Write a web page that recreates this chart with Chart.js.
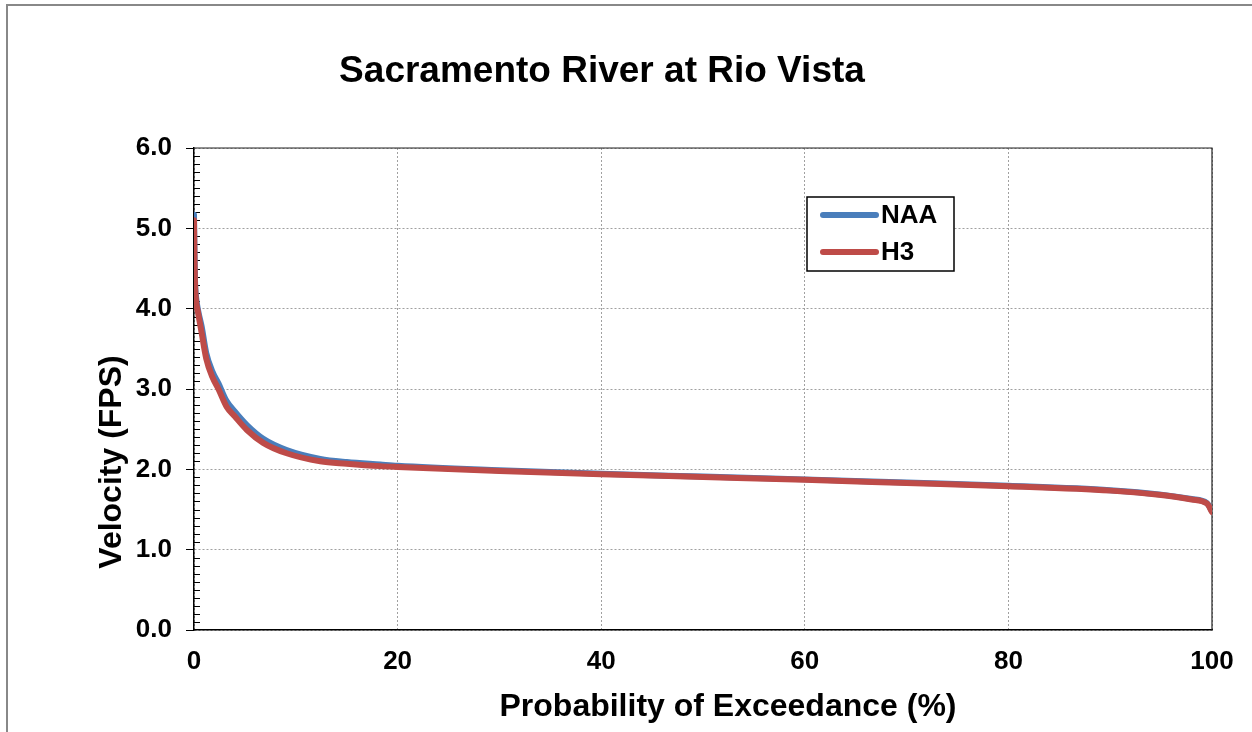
<!DOCTYPE html>
<html>
<head>
<meta charset="utf-8">
<title>Sacramento River at Rio Vista</title>
<script src="https://cdn.jsdelivr.net/npm/chart.js@4.4.1/dist/chart.umd.min.js"></script>
<style>
  body { margin: 0; background: #fff; }
  #wrap { position: relative; width: 1252px; height: 732px; }
  #frame { position: absolute; left: 6px; top: 4px; right: 0; bottom: 0;
           border-top: 2px solid #888; border-left: 2px solid #888; pointer-events: none; }
  canvas { position: absolute; left: 0; top: 0; }
</style>
</head>
<body>
<div id="wrap">
  <canvas id="chart" width="1252" height="732"></canvas>
  <div id="frame"></div>
</div>
<script>
// exceedance probability (%) and velocity (fps)
const exceedance = [0, 0.05, 0.1, 0.2, 0.4, 0.75, 1.2, 1.8, 2.4, 3.2, 4.0, 5.2, 6.8, 9.1, 12.4, 15, 18.3, 20, 30, 40, 50, 60, 70, 80, 90, 95, 98, 99.5, 100];
const naa = [5.17, 4.7, 4.35, 4.15, 3.98, 3.78, 3.45, 3.22, 3.07, 2.85, 2.72, 2.55, 2.38, 2.24, 2.13, 2.09, 2.06, 2.045, 1.99, 1.945, 1.91, 1.875, 1.835, 1.795, 1.74, 1.685, 1.63, 1.58, 1.48];
const h3 = [5.1, 4.6, 4.3, 4.1, 3.95, 3.7, 3.38, 3.15, 3.0, 2.78, 2.66, 2.49, 2.33, 2.20, 2.10, 2.07, 2.04, 2.03, 1.98, 1.94, 1.905, 1.87, 1.83, 1.79, 1.735, 1.68, 1.625, 1.575, 1.47];
const seriesNames = ['NAA', 'H3'];
const xTicks = [0, 20, 40, 60, 80, 100];
const yTicks = [0, 1, 2, 3, 4, 5, 6];

const FONT = '"Liberation Sans", Arial, sans-serif';

const toPoints = (ys) => exceedance.map((x, i) => ({ x: x, y: ys[i] }));

// frame, minor ticks, titles and legend
const decor = {
  id: 'decor',
  beforeDatasetsDraw(chart) {
    const { ctx, chartArea: a, scales } = chart;
    ctx.save();
    // top + right border of the plot
    ctx.strokeStyle = '#222';
    ctx.lineWidth = 1.2;
    ctx.beginPath();
    ctx.moveTo(a.left, a.top);
    ctx.lineTo(a.right, a.top);
    ctx.lineTo(a.right, a.bottom);
    ctx.stroke();
    // minor ticks on y, inside
    ctx.strokeStyle = '#000';
    ctx.lineWidth = 1;
    for (let k = 1; k < 60; k++) {
      if (k % 10 === 0) continue;
      const y = Math.round(scales.y.getPixelForValue(k / 10)) + 0.5;
      ctx.beginPath();
      ctx.moveTo(a.left, y);
      ctx.lineTo(a.left + 6, y);
      ctx.stroke();
    }
    ctx.restore();
  },
  afterDraw(chart) {
    const ctx = chart.ctx;
    ctx.save();
    ctx.fillStyle = '#000';
    ctx.textAlign = 'center';
    ctx.textBaseline = 'middle';
    ctx.font = 'bold 37px ' + FONT;
    ctx.fillText('Sacramento River at Rio Vista', 602, 72);
    ctx.font = 'bold 32px ' + FONT;
    ctx.fillText('Probability of Exceedance (%)', 728, 707);
    ctx.save();
    ctx.translate(112, 462);
    ctx.rotate(-Math.PI / 2);
    ctx.fillText('Velocity (FPS)', 0, 0);
    ctx.restore();

    // legend box
    ctx.fillStyle = '#fff';
    ctx.fillRect(807, 197, 147, 74);
    ctx.strokeStyle = '#000';
    ctx.lineWidth = 1.5;
    ctx.strokeRect(807, 197, 147, 74);
    const rows = [215, 252];
    chart.data.datasets.forEach((ds, i) => {
      ctx.strokeStyle = ds.borderColor;
      ctx.lineWidth = 6;
      ctx.lineCap = 'round';
      ctx.beginPath();
      ctx.moveTo(823, rows[i]);
      ctx.lineTo(876, rows[i]);
      ctx.stroke();
      ctx.fillStyle = '#000';
      ctx.textAlign = 'left';
      ctx.font = 'bold 26px ' + FONT;
      ctx.fillText(ds.label, 881, rows[i] + 1);
    });
    ctx.restore();
  }
};

new Chart(document.getElementById('chart'), {
  type: 'line',
  data: {
    datasets: [
      { label: seriesNames[0], data: toPoints(naa), borderColor: '#4a7ebb', borderWidth: 6, order: 2 },
      { label: seriesNames[1], data: toPoints(h3), borderColor: '#be4b48', borderWidth: 6, order: 1 }
    ]
  },
  options: {
    responsive: false,
    animation: false,
    events: [],
    elements: {
      point: { radius: 0 },
      line: { cubicInterpolationMode: 'monotone', borderCapStyle: 'round', borderJoinStyle: 'round' }
    },
    layout: { padding: { left: 0, top: 148, right: 40, bottom: 0 } },
    plugins: { legend: { display: false }, title: { display: false }, tooltip: { enabled: false } },
    scales: {
      x: {
        type: 'linear',
        min: 0,
        max: 100,
        afterFit: (s) => { s.height = 102; },
        afterBuildTicks: (s) => { s.ticks = xTicks.map(v => ({ value: v })); },
        ticks: { padding: 16, color: '#000', font: { family: FONT, size: 26, weight: 'bold' } },
        grid: { color: '#a0a0a0', drawTicks: false },
        border: { display: true, color: '#000', width: 1.5, dash: [2, 2] }
      },
      y: {
        min: 0,
        max: 6,
        afterFit: (s) => { s.width = 194; },
        afterBuildTicks: (s) => { s.ticks = yTicks.map(v => ({ value: v })); },
        ticks: { padding: 14, color: '#000', font: { family: FONT, size: 26, weight: 'bold' },
                 callback: (v) => Number(v).toFixed(1) },
        grid: { color: '#a0a0a0', tickLength: 8, tickColor: '#000', tickBorderDash: [], tickWidth: 1 },
        border: { display: true, color: '#000', width: 1.5, dash: [2, 2] }
      }
    }
  },
  plugins: [decor]
});
</script>
</body>
</html>
